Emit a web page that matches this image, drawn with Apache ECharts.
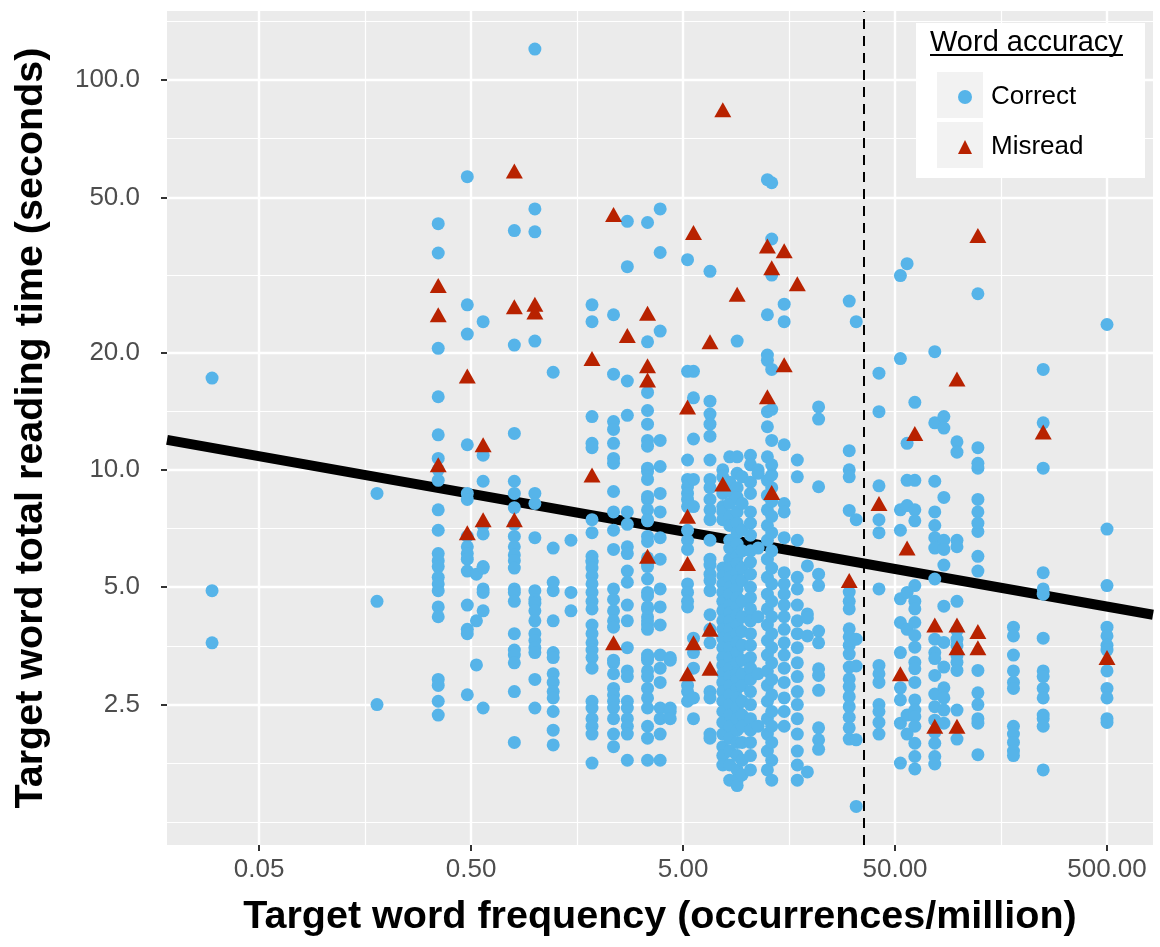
<!DOCTYPE html>
<html>
<head>
<meta charset="utf-8">
<script src="https://cdn.jsdelivr.net/npm/echarts@6/dist/echarts.min.js"></script>
<style>
  html, body { margin: 0; padding: 0; background: #fff; }
  #chart { width: 1160px; height: 947px; }
</style>
</head>
<body>
<div id="chart"></div>
<script>
// ---- axis ranges / ticks (frequency per million, seconds) ----
const xRange = [0.01839, 824];
const yRange = [1.091, 150.3];
const xTicks = [0.05, 0.5, 5, 50, 500];
const xTickLabels = ["0.05", "0.50", "5.00", "50.00", "500.00"];
const xMinor = [0.158, 1.58, 15.8, 158];
const yTicks = [2.5, 5, 10, 20, 50, 100];
const yTickLabels = ["2.5", "5.0", "10.0", "20.0", "50.0", "100.0"];
const yMinor = [1.25, 1.768, 3.536, 7.071, 14.14, 31.62, 70.71, 141.4];

// dashed cut-off and fitted line (end points)
const cutoffFreq = 35.2;
const fitFreq = [0.01839, 824];
const fitTime = [11.94, 4.25];

// ---- correctly read words: one frequency per column, reading times in that column ----
const correctFreq = [0.030, 0.18, 0.35, 0.48, 0.53, 0.57, 0.80, 1.0, 1.22, 1.48, 1.86, 2.35, 2.73, 3.4, 3.9, 4.35,
  5.25, 5.6, 6.7, 7.7, 8.3, 9.0, 9.5, 10.4, 11.3, 12.5, 13.1, 15.0, 17.3, 19.3, 21.8, 30.4, 32.8, 42,
  53, 57, 62, 77, 85, 98, 123, 181, 250, 500];
const correctTime = [
  [17.2, 4.9, 3.6],
  [8.7, 4.6, 2.5],
  [42.8, 36.0, 20.5, 15.4, 12.3, 10.7, 10.0, 9.4, 7.9, 7.0, 6.1, 5.85, 5.65, 5.3, 5.1, 4.9, 4.45, 4.2, 2.9, 2.8, 2.55, 2.35],
  [56.5, 26.5, 22.3, 11.6, 8.7, 8.4, 6.75, 6.35, 6.1, 5.9, 5.5, 4.5, 3.9, 3.8, 2.65],
  [5.4, 4.1, 3.16],
  [24.0, 10.9, 9.35, 7.2, 6.85, 5.65, 5.6, 4.95, 4.85, 4.35, 2.45],
  [41.1, 20.9, 12.4, 9.35, 8.7, 8.0, 7.25, 6.75, 6.35, 6.05, 5.85, 5.6, 4.95, 4.85, 4.6, 3.8, 3.45, 3.35, 3.2, 2.7, 2.0],
  [120, 46.7, 40.8, 21.4, 8.7, 8.2, 6.7, 4.9, 4.65, 4.55, 4.35, 4.1, 3.8, 3.65, 3.5, 3.4, 2.9, 2.45],
  [17.8, 6.3, 5.15, 4.9, 4.1, 3.4, 3.3, 3.0, 2.85, 2.7, 2.6, 2.4, 2.15, 1.97],
  [6.6, 4.85, 4.35],
  [26.5, 24.0, 13.7, 11.7, 11.4, 7.45, 6.9, 6.0, 5.8, 5.85, 5.6, 5.35, 5.1, 4.85, 4.6, 4.4, 4.0, 3.8, 3.6, 3.45, 3.3, 3.1, 2.55, 2.45, 2.3, 2.2, 2.1, 1.77],
  [25.0, 17.6, 13.3, 12.7, 11.7, 10.7, 10.4, 8.8, 7.8, 7.0, 6.25, 4.95, 4.65, 4.35, 4.1, 3.95, 3.2, 3.25, 3.0, 2.75, 2.65, 2.55, 2.45, 2.3, 2.1, 1.95],
  [43.4, 33.2, 16.9, 13.8, 7.8, 7.25, 6.35, 6.1, 5.5, 5.15, 4.5, 4.1, 3.5, 3.05, 2.95, 2.55, 2.45, 2.3, 2.2, 2.1, 1.8],
  [43.1, 21.3, 15.8, 14.2, 13.1, 11.9, 11.5, 10.1, 9.9, 9.45, 8.55, 8.4, 7.9, 7.45, 7.4, 6.75, 6.55, 5.95, 5.8, 5.75, 5.65, 5.25, 4.85, 4.75, 4.45, 4.4, 4.2, 4.1, 4.0, 3.9, 3.35, 3.3, 3.25, 3.05, 2.95, 2.75, 2.6, 2.45, 2.2, 2.05, 1.8],
  [46.7, 36.1, 22.7, 11.9, 10.2, 8.7, 7.8, 6.7, 5.9, 4.95, 4.45, 4.0, 3.35, 3.1, 2.85, 2.45, 2.3, 2.1, 1.8],
  [3.3, 3.25, 2.45, 2.4, 2.3],
  [34.6, 17.9, 10.6, 9.45, 9.05, 8.7, 8.4, 8.05, 7.0, 6.6, 6.25, 5.1, 4.85, 4.6, 4.45, 2.8, 2.7, 2.55],
  [17.9, 15.3, 12.0, 9.45, 8.05, 3.7, 3.4, 3.1, 2.6, 2.3],
  [32.3, 15.0, 13.9, 13.1, 12.2, 10.6, 9.45, 9.0, 8.4, 7.9, 7.45, 6.6, 5.9, 5.7, 5.4, 5.2, 4.9, 4.25, 3.9, 3.6, 2.7, 2.6, 2.1, 2.05],
  [10.0, 9.6, 8.7, 8.05, 7.8, 7.45, 5.6, 5.35, 5.1, 4.85, 4.6, 4.35, 4.1, 3.9, 3.7, 3.5, 3.3, 3.15, 3.0, 2.85, 2.7, 2.55, 2.4, 2.25, 2.1, 1.95, 1.85, 1.75],
  [10.8, 9.3, 8.8, 8.2, 7.6, 7.2, 6.6, 6.3, 5.9, 5.6, 5.3, 5.0, 4.8, 4.5, 4.3, 4.1, 3.9, 3.7, 3.5, 3.3, 3.1, 2.95, 2.8, 2.65, 2.5, 2.35, 2.2, 2.05, 1.9, 1.75, 1.6],
  [21.4, 10.8, 9.8, 9.0, 8.5, 7.8, 7.3, 6.9, 6.45, 6.0, 5.75, 5.45, 5.2, 4.95, 4.7, 4.45, 4.25, 4.0, 3.8, 3.6, 3.4, 3.2, 3.0, 2.9, 2.75, 2.6, 2.45, 2.3, 2.15, 2.0, 1.85, 1.7, 1.6, 1.55],
  [9.6, 8.2, 7.0, 6.2, 5.6, 5.2, 4.6, 4.2, 3.85, 3.55, 3.25, 3.0, 2.8, 2.55, 2.35, 2.2, 2.0, 1.8, 1.65],
  [10.9, 10.3, 9.3, 8.7, 7.8, 7.3, 6.8, 6.2, 5.8, 5.4, 5.0, 4.7, 4.4, 4.1, 3.8, 3.55, 3.3, 3.1, 2.9, 2.7, 2.5, 2.3, 2.15, 2.0, 1.85, 1.7],
  [10.0, 9.8, 6.3, 4.2, 3.0, 2.2],
  [55.5, 25.0, 19.7, 19.1, 14.1, 12.9, 10.8, 9.4, 8.6, 7.9, 7.2, 6.6, 5.9, 5.3, 4.8, 4.4, 4.0, 3.65, 3.35, 3.05, 2.8, 2.55, 2.3, 2.1, 1.9, 1.7],
  [54.5, 39.1, 31.6, 18.1, 14.3, 11.9, 10.3, 9.7, 9.0, 8.3, 7.6, 6.9, 6.2, 5.6, 5.1, 4.6, 4.2, 3.8, 3.5, 3.2, 2.9, 2.65, 2.4, 2.2, 2.0, 1.8, 1.6],
  [26.6, 24.0, 11.6, 8.2, 7.8, 6.7, 5.45, 5.1, 4.8, 4.5, 4.2, 3.9, 3.6, 3.35, 3.1, 2.85, 2.6, 2.4, 2.2],
  [10.6, 9.6, 6.6, 5.3, 4.95, 4.5, 4.1, 3.8, 3.5, 3.2, 2.95, 2.7, 2.5, 2.3, 2.1, 1.9, 1.75, 1.6],
  [5.67, 4.27, 4.17, 3.75, 1.68],
  [14.5, 13.5, 9.05, 5.4, 5.05, 3.86, 3.6, 3.09, 2.97, 2.72, 2.18, 2.03, 1.92],
  [27.1, 11.2, 10.0, 9.6, 7.87, 4.86, 4.6, 4.4, 3.91, 3.73, 3.55, 3.37, 3.12, 2.91, 2.78, 2.62, 2.47, 2.32, 2.18, 2.04],
  [24.0, 7.45, 3.68, 3.14, 2.03, 1.37],
  [17.7, 14.1, 9.1, 7.45, 6.9, 4.95, 3.15, 3.0, 2.85, 2.5, 2.4, 2.25, 2.1],
  [31.5, 19.3, 7.9, 7.0, 4.67, 4.06, 3.4, 2.76, 2.57, 2.24, 1.77],
  [33.8, 11.7, 9.4, 8.1, 4.85, 3.9, 2.35, 2.1],
  [14.9, 9.4, 7.9, 7.4, 5.05, 4.6, 4.4, 4.06, 3.76, 3.51, 3.21, 3.09, 2.85, 2.57, 2.42, 2.33, 2.2, 1.99, 1.84, 1.71],
  [20.1, 13.2, 9.35, 7.8, 7.2, 6.7, 6.3, 5.25, 3.68, 3.4, 3.28, 2.97, 2.66, 2.47, 2.28, 2.12, 1.99, 1.84, 1.76],
  [13.7, 12.8, 8.5, 6.6, 6.25, 5.7, 4.47, 3.61, 3.12, 2.76, 2.6, 2.42, 2.24],
  [11.8, 11.1, 6.6, 6.35, 4.6, 3.87, 3.68, 3.54, 3.34, 3.21, 3.06, 2.42, 2.04],
  [28.3, 11.4, 10.4, 10.1, 8.4, 7.8, 7.3, 6.95, 6.0, 5.5, 3.06, 2.68, 2.5, 2.3, 2.24, 1.86],
  [3.95, 3.75, 3.35, 3.05, 2.85, 2.75, 2.2, 2.1, 2.0, 1.9, 1.85],
  [18.1, 13.2, 10.1, 5.45, 4.95, 4.8, 3.7, 3.05, 2.95, 2.75, 2.6, 2.35, 2.3, 2.2, 1.7],
  [23.6, 7.05, 5.05, 3.95, 3.75, 3.55, 3.45, 3.05, 2.75, 2.6, 2.3, 2.25]
];

// ---- misread words ----
const misreadFreq = [0.35, 0.48, 0.57, 0.80, 1.0, 1.86, 2.35, 2.73, 3.4, 5.25, 5.6, 6.7, 7.7, 9.0, 12.5, 13.1,
  15.0, 17.3, 30.4, 42, 53, 57, 62, 77, 98, 123, 250, 500];
const misreadTime = [
  [29.7, 25.0, 10.3],
  [17.4, 6.9],
  [11.6, 7.45],
  [58.4, 26.2, 7.45],
  [26.6, 25.4],
  [19.3, 9.7],
  [45.2, 3.6],
  [22.1],
  [25.2, 18.5, 17.0, 6.0],
  [14.5, 7.6, 5.75, 3.0],
  [40.6, 3.6],
  [21.3, 3.9, 3.1],
  [83.9, 9.2],
  [28.2],
  [37.5, 15.4],
  [33.0, 8.75],
  [36.5, 18.6],
  [30.0],
  [5.2],
  [8.2],
  [3.0],
  [6.3],
  [12.4],
  [4.0, 2.2],
  [17.1, 4.0, 3.5, 2.2],
  [39.9, 3.85, 3.5],
  [12.5],
  [3.3]
];

const FONT = "'Liberation Sans', Arial, Helvetica, sans-serif";
const log10 = Math.log10;

function toPoints(freqs, times) {
  const pts = [];
  freqs.forEach((f, i) => {
    times[i].forEach(t => pts.push([log10(f), log10(t)]));
  });
  return pts;
}

function tickLabel(ticks, labels) {
  return v => {
    const i = ticks.findIndex(t => Math.abs(log10(t) - v) < 1e-6);
    return i < 0 ? "" : labels[i];
  };
}

const chart = echarts.init(document.getElementById("chart"), null, { renderer: "canvas" });

chart.setOption({
  animation: false,
  backgroundColor: "#ffffff",
  textStyle: { fontFamily: FONT },
  grid: {
    left: 167, right: 7, top: 11, bottom: 102,
    show: true, backgroundColor: "#EBEBEB", borderWidth: 0
  },
  xAxis: [
    {
      type: "value",
      min: log10(xRange[0]), max: log10(xRange[1]),
      name: "Target word frequency (occurrences/million)",
      nameLocation: "middle",
      nameGap: 52,
      nameTextStyle: { fontSize: 39.5, fontWeight: "bold", color: "#000", fontFamily: FONT },
      axisLine: { show: false, onZero: false },
      axisTick: { show: true, length: 6, lineStyle: { color: "#333", width: 2 }, customValues: xTicks.map(log10) },
      axisLabel: {
        customValues: xTicks.map(log10),
        formatter: tickLabel(xTicks, xTickLabels),
        fontSize: 26, color: "#4D4D4D", margin: 12, fontFamily: FONT
      },
      splitLine: { show: true, lineStyle: { color: "#ffffff", width: 2.4 } }
    },
    {
      type: "value",
      min: log10(xRange[0]), max: log10(xRange[1]),
      position: "bottom",
      axisLine: { show: false, onZero: false },
      axisTick: { show: false, customValues: xMinor.map(log10) },
      axisLabel: { show: false },
      splitLine: { show: true, lineStyle: { color: "#ffffff", width: 1.2 } }
    }
  ],
  yAxis: [
    {
      type: "value",
      min: log10(yRange[0]), max: log10(yRange[1]),
      name: "Target word total reading time (seconds)",
      nameLocation: "middle",
      nameGap: 116,
      nameTextStyle: { fontSize: 39.5, fontWeight: "bold", color: "#000", fontFamily: FONT },
      axisLine: { show: false, onZero: false },
      axisTick: { show: true, length: 6, lineStyle: { color: "#333", width: 2 }, customValues: yTicks.map(log10) },
      axisLabel: {
        customValues: yTicks.map(log10),
        formatter: tickLabel(yTicks, yTickLabels),
        fontSize: 26, color: "#4D4D4D", margin: 27, fontFamily: FONT
      },
      splitLine: { show: true, lineStyle: { color: "#ffffff", width: 2.4 } }
    },
    {
      type: "value",
      min: log10(yRange[0]), max: log10(yRange[1]),
      position: "left",
      axisLine: { show: false, onZero: false },
      axisTick: { show: false, customValues: yMinor.map(log10) },
      axisLabel: { show: false },
      splitLine: { show: true, lineStyle: { color: "#ffffff", width: 1.2 } }
    }
  ],
  legend: {
    orient: "vertical",
    left: 953, top: 79,
    itemWidth: 14, itemHeight: 14, itemGap: 24,
    textStyle: { fontSize: 26, color: "#000", fontFamily: FONT, padding: [0, 0, 0, 14] },
    data: ["Correct", "Misread"]
  },
  graphic: [
    { type: "rect", z: 3, shape: { x: 916, y: 23, width: 229, height: 155 }, style: { fill: "#ffffff" } },
    { type: "rect", z: 3, shape: { x: 937, y: 72, width: 46, height: 46 }, style: { fill: "#F2F2F2" } },
    { type: "rect", z: 3, shape: { x: 937, y: 122, width: 46, height: 46 }, style: { fill: "#F2F2F2" } },
    {
      type: "text", z: 3, left: 930, top: 28,
      style: { text: "Word accuracy", fontSize: 29, fill: "#000", fontFamily: FONT }
    },
    { type: "line", z: 3, shape: { x1: 930, y1: 55, x2: 1123, y2: 55 }, style: { stroke: "#000", lineWidth: 2 } }
  ],
  series: [
    {
      name: "Correct",
      type: "scatter",
      silent: true,
      symbol: "circle",
      symbolSize: 13,
      itemStyle: { color: "#56B4E9", opacity: 1 },
      data: toPoints(correctFreq, correctTime),
      z: 2
    },
    {
      name: "Misread",
      type: "scatter",
      silent: true,
      symbol: "triangle",
      symbolSize: [17, 15],
      itemStyle: { color: "#B82200", opacity: 1 },
      data: toPoints(misreadFreq, misreadTime),
      z: 2
    },
    {
      name: "fit",
      type: "line",
      silent: true,
      showSymbol: false,
      symbol: "none",
      lineStyle: { color: "#000", width: 10 },
      data: fitFreq.map((f, i) => [log10(f), log10(fitTime[i])]),
      markLine: {
        silent: true,
        symbol: ["none", "none"],
        label: { show: false },
        lineStyle: { color: "#000", width: 2, type: [10, 7] },
        data: [{ xAxis: log10(cutoffFreq) }]
      },
      z: 2
    }
  ]
});
</script>
</body>
</html>
